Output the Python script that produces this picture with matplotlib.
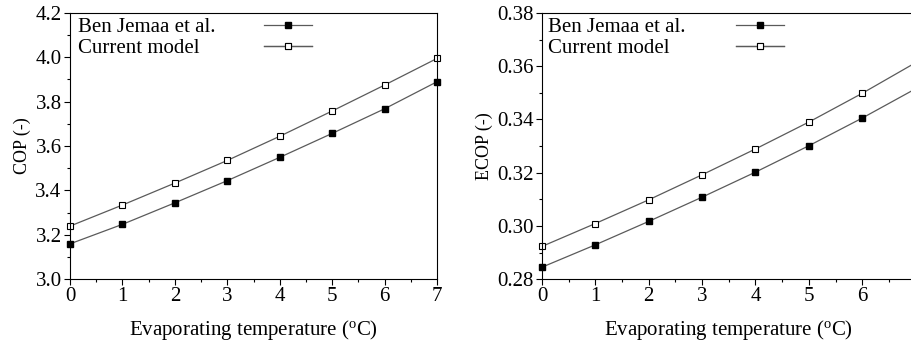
import numpy as np
import matplotlib.pyplot as plt
from matplotlib.ticker import MultipleLocator

plt.rcParams['font.family'] = ['Liberation Serif', 'DejaVu Serif']

temps = [0, 1, 2, 3, 4, 5, 6, 7]
series_names = ['Ben Jemaa et al.', 'Current model']

# COP
cop_jemaa = [3.159, 3.247, 3.344, 3.444, 3.549, 3.657, 3.768, 3.890]
cop_model = [3.239, 3.334, 3.433, 3.535, 3.644, 3.758, 3.875, 3.995]

# ECOP
ecop_jemaa = [0.2845, 0.2929, 0.3017, 0.3108, 0.3202, 0.3301, 0.3405, 0.3515]
ecop_model = [0.2923, 0.3009, 0.3098, 0.3192, 0.3289, 0.3390, 0.3498, 0.3613]

fig = plt.figure(figsize=(9.11, 3.4), dpi=100)
ax1 = fig.add_axes([0.0768, 0.179, 0.403, 0.783])
ax2 = fig.add_axes([0.595, 0.179, 0.41, 0.783])

fs = 15
line_col = '#5a5a5a'


def draw(ax, y1, y2, ylim, ystep, ylabel, fmt, text_x, handle_x):
    l1, = ax.plot(temps, y1, color=line_col, lw=0.9, marker='s', ms=5,
                  mfc='black', mec='black', clip_on=False)
    l2, = ax.plot(temps, y2, color=line_col, lw=0.9, marker='s', ms=5,
                  mfc='white', mec='black', mew=0.8, clip_on=False)
    ax.set_xlim(0, 7)
    ax.set_ylim(*ylim)
    ax.xaxis.set_major_locator(MultipleLocator(1))
    ax.xaxis.set_minor_locator(MultipleLocator(0.5))
    ax.yaxis.set_major_locator(MultipleLocator(ystep))
    ax.yaxis.set_minor_locator(MultipleLocator(ystep / 2))
    ax.yaxis.set_major_formatter(plt.FormatStrFormatter(fmt))
    ax.tick_params(which='both', direction='out', top=False, right=False,
                   labelsize=fs, width=0.8, pad=2)
    ax.tick_params(which='major', length=4)
    ax.tick_params(which='minor', length=2.5)
    for s in ax.spines.values():
        s.set_linewidth(0.8)
    ax.set_xlabel('Evaporating temperature ($\\mathregular{^o}$C)', fontsize=fs, labelpad=8)
    ax.set_ylabel(ylabel, fontsize=13, labelpad=3)

    # legend: names on the left, handles further right
    rows_y = [0.946, 0.867]
    for name, line, yy in zip(series_names, [l1, l2], rows_y):
        ax.text(text_x, yy, name, transform=ax.transAxes, fontsize=fs,
                ha='left', va='center')
        leg = ax.legend([line], [''], loc='center left',
                        bbox_to_anchor=(handle_x, yy), frameon=False,
                        handlelength=2.3, handletextpad=0, borderpad=0,
                        borderaxespad=0, fontsize=fs)
        ax.add_artist(leg)


draw(ax1, cop_jemaa, cop_model, (3.0, 4.2), 0.2, 'COP (-)', '%.1f', 0.021, 0.529)
draw(ax2, ecop_jemaa, ecop_model, (0.28, 0.38), 0.02, 'ECOP (-)', '%.2f', 0.016, 0.52)

fig.savefig('out.png', dpi=100)
